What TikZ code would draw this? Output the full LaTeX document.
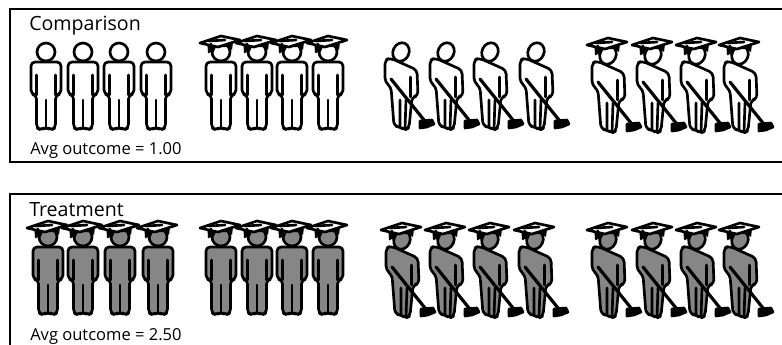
\documentclass[tikz,border=0pt]{standalone}
\usepackage{fontspec}
\setmainfont{Open Sans}
\usetikzlibrary{positioning}
\definecolor{bodygray}{RGB}{134,134,134}
\tikzset{
  x=0.75pt, y=-0.75pt,
  frame/.style={draw=black, line width=2.2pt},
  title/.style={anchor=base west, inner sep=0pt, font=\fontsize{14.7}{16}\selectfont},
  outcome/.style={anchor=base west, inner sep=0pt, font=\fontsize{12.4}{14}\selectfont},
  figline/.style={draw=black, line width=2pt, line join=round, line cap=round},
  broom/.style={draw=black, line width=2.4pt, line cap=round},
  pics/standing/.style={code={
    \path[figline, fill=#1] (0,-1) circle (9);
    \path[figline, fill=#1, rounded corners=3pt] (-15,9) -- (15,9) -- (15,41) -- (9.5,42)
      -- (9.5,75) -- (5,77) -- (0,74) -- (-5,77) -- (-9.5,75) -- (-9.5,42) -- (-15,41) -- cycle;
    \draw[figline] (-9.5,22) -- (-9.5,42) (9.5,22) -- (9.5,42) (0,47) -- (0,74);
  }},
  pics/sweeping/.style={code={
    \path[figline, fill=#1] (0,0) ellipse [x radius=8, y radius=9.5, rotate=-25];
    \path[figline, fill=#1, rounded corners=3pt] (-16,8) -- (-11,6) -- (16,18) -- (17,44)
      -- (11,45) -- (8,76) -- (4,78) -- (-1,75) -- (-7,74) -- (-10,35) -- (-16,30) -- cycle;
    \draw[figline] (9.5,25) -- (9.5,45) (-1,48) -- (-1,75) (5,48) -- (4,77);
    \draw[broom] (-10,27) -- (23,68);
    \path[figline, fill=black] (19,69) -- (31,68) -- (33,72) -- (26,75) -- (19,76) -- cycle;
  }},
  pics/gradcap/.style={code={
    \fill[black] (-14,-11) -- (12,-11) -- (11,-3) -- (7,-6) -- (-5,-6) -- (-8,0) -- (-13,-2) -- cycle;
    \path[figline, fill=white] (-21,-10) -- (0,-17) -- (19,-13) -- (-3,-6) -- cycle;
    \draw[figline] (-10,-9) -- (-12,-1);
    \draw[figline] (-12,-12) -- (4,-13);
  }},
}
\begin{document}
\begin{tikzpicture}
  \useasboundingbox (0,0) rectangle (782,344);
  \draw[frame] (783,9) -- (10,9) -- (10,162) -- (783,162);
  \draw[frame] (783,194) -- (10,194) -- (10,345);

  \node[title] (comparison) at (29,30) {Comparison};
  \node[title] (treatment) at (29,216) {Treatment};
  \node[outcome] (avgcomp) at (30,154) {Avg outcome = 1.00};
  \node[outcome] (avgtreat) at (30,340) {Avg outcome = 2.50};

  % top row
  \foreach \x in {46,83,119,156} \pic at (\x,53) {standing=white};
  \foreach \x in {221,257,292,328} {
    \pic at (\x,53) {standing=white};
    \pic at (\x,53) {gradcap};
  }
  \foreach \x in {401,446,490,536} \pic at (\x,52) {sweeping=white};
  \foreach \x in {608,653,697,740} {
    \pic at (\x,55) {sweeping=white};
    \pic at (\x,55) {gradcap};
  }

  % bottom row
  \foreach \x/\px in {48/221,83/257,120/292,158/328} {
    \pic at (\x,238) {standing=bodygray};
    \pic at (\x,238) {gradcap};
    \pic at (\px,238) {standing=bodygray};
    \pic at (\px,238) {gradcap};
  }
  \foreach \x/\px in {402/608,446/653,490/697,535/740} {
    \pic at (\x,240) {sweeping=bodygray};
    \pic at (\x,240) {gradcap};
    \pic at (\px,240) {sweeping=bodygray};
    \pic at (\px,240) {gradcap};
  }
\end{tikzpicture}
\end{document}
